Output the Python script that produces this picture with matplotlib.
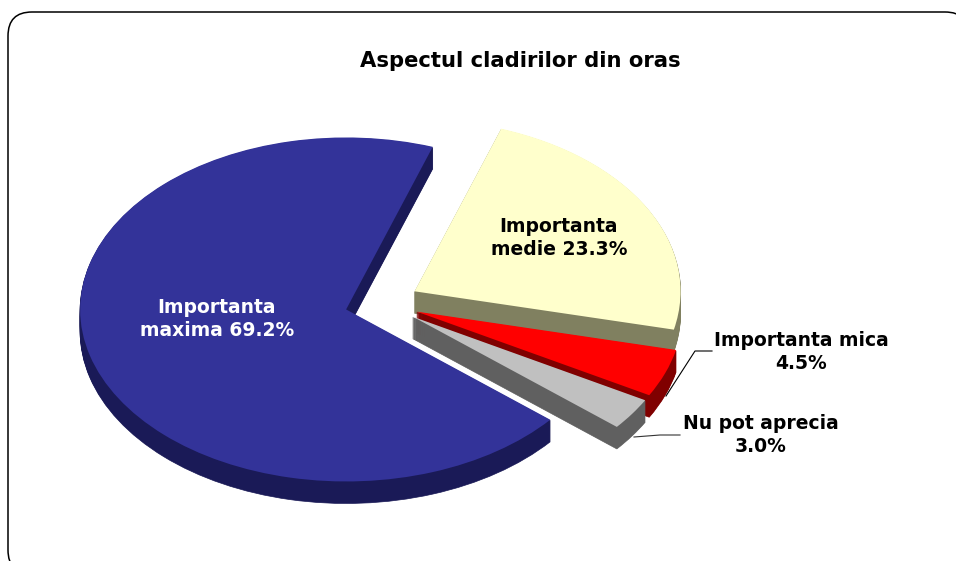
import matplotlib
matplotlib.use("Agg")
import matplotlib.pyplot as plt
from matplotlib.patches import FancyBboxPatch

# Data, counter-clockwise from the start angle
categories = ["Importanta maxima", "Nu pot aprecia", "Importanta mica", "Importanta medie"]
shares = [69.2, 3.0, 4.5, 23.3]
top_colors = ["#333399", "#C0C0C0", "#FF0000", "#FFFFCC"]
side_colors = ["#1A1A57", "#606060", "#800000", "#808060"]
draw_rank = [4, 3, 2, 1]

W, H = 956, 561
START = 71
EXPLODE = 0.14
CX, CY = 382, 303      # pie centre, px
RX, RY = 266, 172      # pie radii, px
DEPTH = 22             # px

plt.rcParams["font.family"] = ["DejaVu Sans"]
fig = plt.figure(figsize=(W / 100, H / 100), dpi=100, facecolor="white")

# Bottom layer in pixel coordinates: the rounded frame (filled, so Agg keeps its curves)
bg = fig.add_axes([0, 0, 1, 1], zorder=0)
bg.set_xlim(0, W)
bg.set_ylim(H, 0)
bg.axis("off")
bg.add_patch(FancyBboxPatch((8, 12), 961, 562, boxstyle="round,pad=0,rounding_size=24",
                            fc="white", ec="black", lw=1.1, clip_on=False))

ax = fig.add_axes([0, 0, 1, 1], zorder=1, facecolor="none")
for d in range(DEPTH, -1, -1):
    wedges, _ = ax.pie(shares, startangle=START, counterclock=True,
                       explode=[EXPLODE] * len(shares),
                       colors=top_colors if d == 0 else side_colors,
                       center=(0, -d / RY), radius=1,
                       wedgeprops={"linewidth": 0})
    for w, r in zip(wedges, draw_rank):
        w.set_zorder(r * 100 + (DEPTH - d))
        w.set_clip_on(False)
        if d > 0:
            w.set_edgecolor(w.get_facecolor())
            w.set_linewidth(0.5)
ax.set_aspect("auto")
ax.set_xlim(-CX / RX, (W - CX) / RX)
ax.set_ylim(-(H - CY) / RY, CY / RY)
ax.axis("off")

# Top layer in pixel coordinates: text, leader lines
ov = fig.add_axes([0, 0, 1, 1], zorder=2, facecolor="none")
ov.set_xlim(0, W)
ov.set_ylim(H, 0)
ov.axis("off")

ov.plot([666, 695, 712], [396, 351, 351], color="black", lw=0.8)
ov.plot([634, 660, 680], [437, 435, 435], color="#333333", lw=0.8)

tkw = dict(ha="center", va="center", fontweight="bold", linespacing=1.25)
ov.text(520, 61, "Aspectul cladirilor din oras", color="black", fontsize=15.2, **tkw)
fs = 13.5
ov.text(217, 319, "Importanta\nmaxima 69.2%", color="white", fontsize=fs, **tkw)
ov.text(559, 238, "Importanta\nmedie 23.3%", color="black", fontsize=fs, **tkw)
ov.text(801, 352, "Importanta mica\n4.5%", color="black", fontsize=fs, **tkw)
ov.text(761, 435, "Nu pot aprecia\n3.0%", color="black", fontsize=fs, **tkw)

fig.savefig("out.png", dpi=100, facecolor="white")
